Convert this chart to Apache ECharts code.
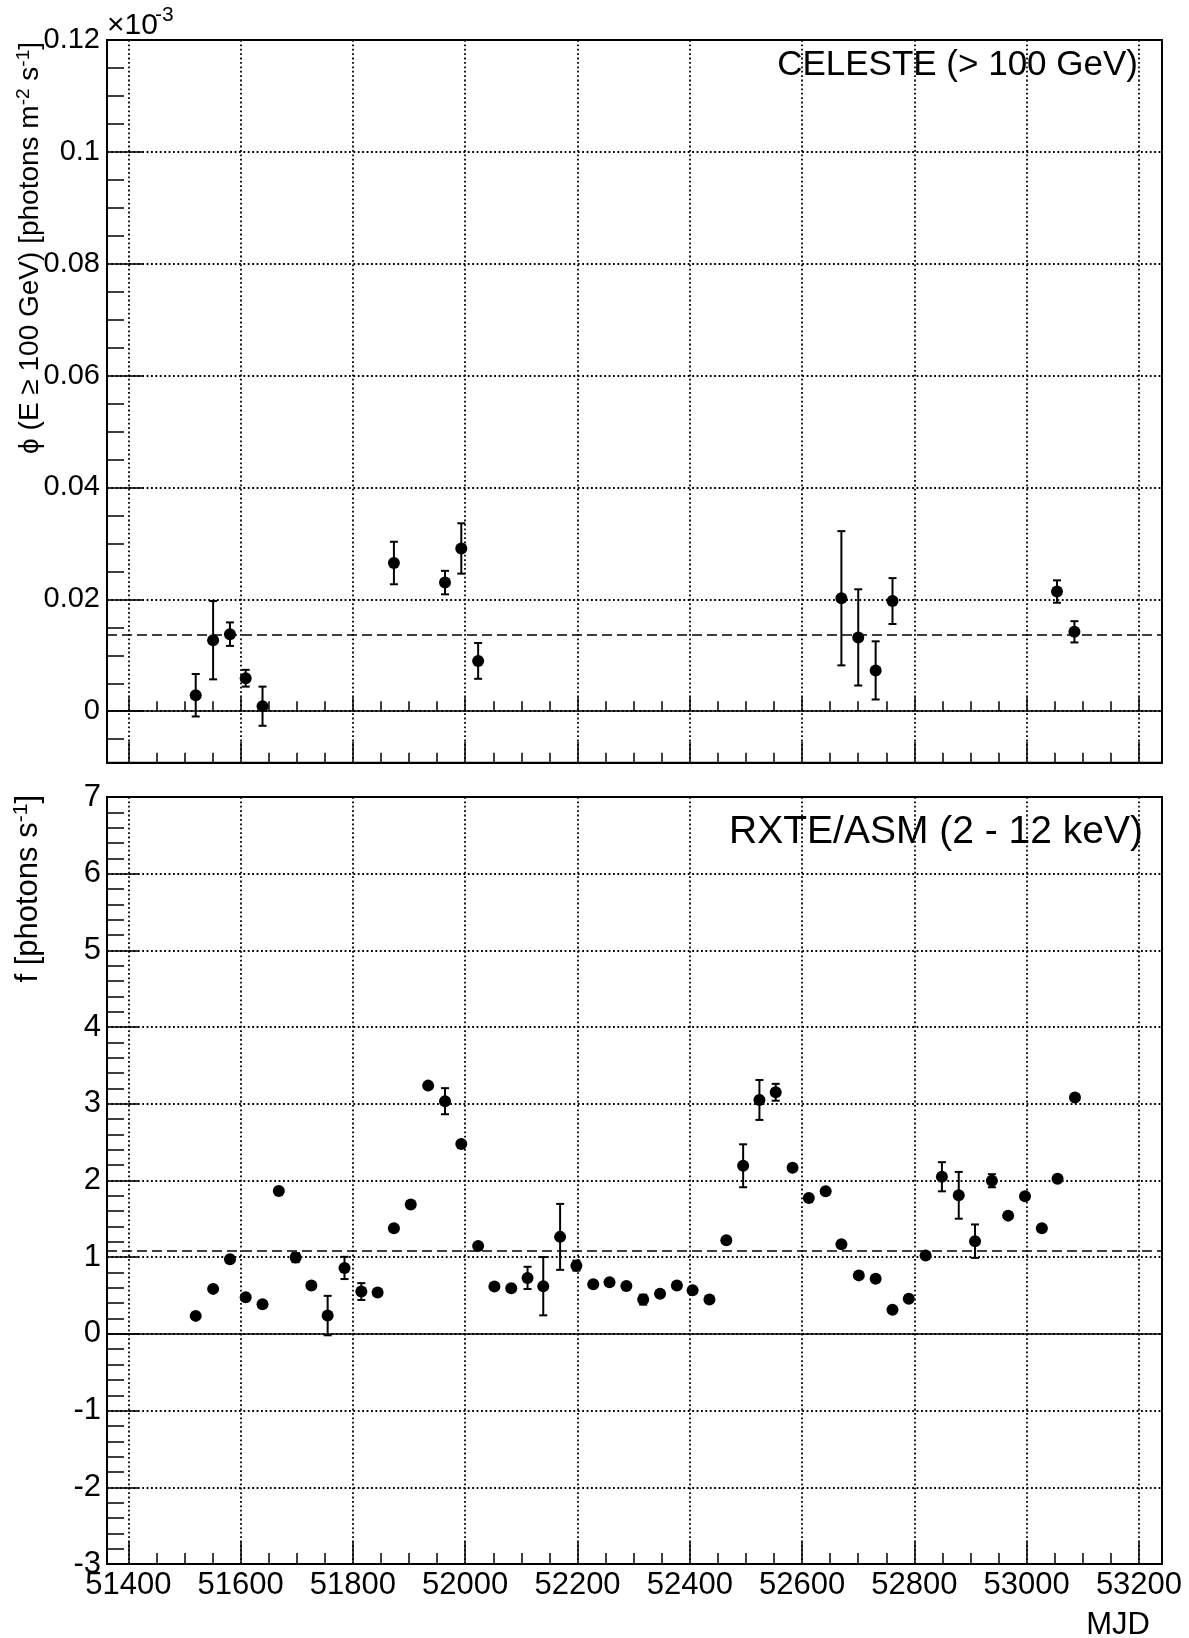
<!DOCTYPE html>
<html>
<head>
<meta charset="utf-8">
<script src="https://cdn.jsdelivr.net/npm/echarts@6/dist/echarts.min.js"></script>
<style>
  html, body { margin: 0; padding: 0; background: #fff; }
  #lightCurveChart { width: 1189px; height: 1638px; }
</style>
</head>
<body>
<div id="lightCurveChart"></div>
<script>
// CELESTE (> 100 GeV) monthly fluxes, in units of 1e-3 photons m^-2 s^-1
var celesteMjd = [51520, 51551, 51581, 51609, 51639, 51873, 51964, 51993, 52023, 52670, 52700, 52731, 52761, 53054, 53085];
var celesteFlux = [0.00286, 0.0127, 0.01378, 0.0059, 0.0009, 0.0265, 0.0230, 0.0291, 0.0090, 0.0202, 0.0132, 0.0073, 0.0197, 0.0214, 0.0142];
var celesteErr = [0.0038, 0.0070, 0.0021, 0.0015, 0.0035, 0.0038, 0.0021, 0.0045, 0.0032, 0.0120, 0.0086, 0.0052, 0.0041, 0.0020, 0.0019];
var celesteMean = 0.0136;

// RXTE/ASM (2 - 12 keV) count rates, photons s^-1
var asmMjd = [51520, 51551, 51581, 51609, 51639, 51668, 51698, 51726, 51755, 51785,
              51815, 51844, 51873, 51903, 51934, 51964, 51993, 52023, 52052, 52082,
              52111, 52139, 52169, 52198, 52228, 52257, 52287, 52317, 52347, 52377,
              52405, 52435, 52465, 52495, 52524, 52553, 52583, 52612, 52642, 52670,
              52701, 52731, 52761, 52790, 52820, 52849, 52879, 52908, 52938, 52967,
              52997, 53027, 53055, 53086];
var asmRate = [0.235, 0.587, 0.974, 0.478, 0.387, 1.864, 0.995, 0.63, 0.239, 0.86,
               0.552, 0.539, 1.378, 1.686, 3.237, 3.034, 2.477, 1.147, 0.617, 0.595,
               0.73, 0.622, 1.265, 0.89, 0.648, 0.674, 0.626, 0.447, 0.525, 0.63,
               0.57, 0.448, 1.222, 2.192, 3.05, 3.15, 2.166, 1.772, 1.859, 1.17,
               0.763, 0.719, 0.316, 0.459, 1.023, 2.049, 1.807, 1.209, 1.997, 1.542,
               1.794, 1.378, 2.023, 3.081];
var asmErr = [0.03, 0.03, 0.03, 0.03, 0.03, 0.03, 0.06, 0.03, 0.257, 0.145,
              0.11, 0.03, 0.03, 0.03, 0.03, 0.17, 0.03, 0.03, 0.03, 0.03,
              0.145, 0.38, 0.43, 0.065, 0.03, 0.03, 0.03, 0.065, 0.03, 0.03,
              0.03, 0.03, 0.03, 0.28, 0.26, 0.11, 0.03, 0.03, 0.03, 0.03,
              0.03, 0.03, 0.03, 0.03, 0.03, 0.19, 0.305, 0.218, 0.085, 0.03,
              0.03, 0.03, 0.03, 0.03];
var asmMean = 1.082;

// axis ranges
var mjdRange = [51362, 53241];
var fluxRange = [-0.0092, 0.12];
var rateRange = [-3, 7];

var FONT = '"Liberation Sans", Arial, Helvetica, sans-serif';
var gridDots = { color: '#000', width: 1.8, type: [1.8, 2.6] };

function zip3(a, b, c) {
  return a.map(function (v, i) { return [v, b[i], c[i]]; });
}

function renderErrorBar(params, api) {
  var x = api.value(0), y = api.value(1), err = api.value(2);
  var hi = api.coord([x, y + err]);
  var lo = api.coord([x, y - err]);
  var cap = 4;
  var style = { stroke: '#000', lineWidth: 2 };
  return {
    type: 'group',
    children: [
      { type: 'line', shape: { x1: hi[0], y1: hi[1], x2: lo[0], y2: lo[1] }, style: style },
      { type: 'line', shape: { x1: hi[0] - cap, y1: hi[1], x2: hi[0] + cap, y2: hi[1] }, style: style },
      { type: 'line', shape: { x1: lo[0] - cap, y1: lo[1], x2: lo[0] + cap, y2: lo[1] }, style: style }
    ]
  };
}

function refLines(mean) {
  return {
    silent: true,
    precision: 6,
    symbol: ['none', 'none'],
    label: { show: false },
    data: [
      { yAxis: 0, lineStyle: { color: '#000', width: 1.6, type: 'solid' } },
      { yAxis: mean, lineStyle: { color: '#000', width: 1.6, type: [10, 5] } }
    ]
  };
}

function mjdAxis(grid, opts) {
  var base = {
    gridIndex: grid,
    type: 'value',
    min: mjdRange[0],
    max: mjdRange[1],
    splitNumber: 9,
    axisLine: { show: true, onZero: false, lineStyle: { color: '#000', width: 2 } },
    axisTick: { show: true, inside: true, length: 21, lineStyle: { color: '#000', width: 1.5 } },
    minorTick: { show: true, splitNumber: 4, length: 10, lineStyle: { color: '#000', width: 1.5 } },
    axisLabel: { show: false },
    splitLine: { show: true, lineStyle: gridDots }
  };
  return Object.assign(base, opts || {});
}

var chartDom = document.getElementById('lightCurveChart');
var myChart = echarts.init(chartDom);

var option = {
  animation: false,
  backgroundColor: '#fff',
  textStyle: { fontFamily: FONT, color: '#000' },
  grid: [
    { left: 107, right: 27, top: 40, height: 722.7, show: true, borderColor: '#000', borderWidth: 2, containLabel: false },
    { left: 107, right: 27, top: 797, height: 767, show: true, borderColor: '#000', borderWidth: 2, containLabel: false }
  ],
  xAxis: [
    mjdAxis(0),
    // ticks of the top panel also poke below its frame
    mjdAxis(0, {
      axisLine: { show: false },
      axisTick: { show: true, inside: false, length: 14, lineStyle: { color: '#000', width: 1.5 } },
      minorTick: { show: true, splitNumber: 4, length: 10, lineStyle: { color: '#000', width: 1.5 } },
      splitLine: { show: false }
    }),
    mjdAxis(1, {
      axisTick: { show: true, inside: true, length: 22, lineStyle: { color: '#000', width: 1.5 } },
      minorTick: { show: true, splitNumber: 4, length: 11, lineStyle: { color: '#000', width: 1.5 } },
      axisLabel: {
        show: true, color: '#000', fontSize: 31, fontFamily: FONT, margin: 6,
        formatter: function (v) { return v % 200 === 0 ? String(v) : ''; }
      }
    })
  ],
  yAxis: [
    {
      gridIndex: 0, type: 'value', min: fluxRange[0], max: fluxRange[1], splitNumber: 6,
      axisLine: { show: true, onZero: false, lineStyle: { color: '#000', width: 2 } },
      axisTick: { show: true, inside: true, length: 36, lineStyle: { color: '#000', width: 1.5 } },
      minorTick: { show: true, splitNumber: 4, length: 17, lineStyle: { color: '#000', width: 1.5 } },
      axisLabel: {
        color: '#000', fontSize: 29, fontFamily: FONT, margin: 7,
        formatter: function (v) {
          var k = v / 0.02;
          return Math.abs(k - Math.round(k)) > 1e-6 ? '' : String(+v.toFixed(2));
        }
      },
      splitLine: { show: true, lineStyle: gridDots }
    },
    {
      gridIndex: 1, type: 'value', min: rateRange[0], max: rateRange[1], interval: 1,
      axisLine: { show: true, onZero: false, lineStyle: { color: '#000', width: 2 } },
      axisTick: { show: true, inside: true, length: 31, lineStyle: { color: '#000', width: 1.5 } },
      minorTick: { show: true, splitNumber: 5, length: 17, lineStyle: { color: '#000', width: 1.5 } },
      axisLabel: { color: '#000', fontSize: 31, fontFamily: FONT, margin: 6 },
      splitLine: { show: true, lineStyle: gridDots }
    }
  ],
  series: [
    {
      name: 'CELESTE error',
      type: 'custom',
      xAxisIndex: 0, yAxisIndex: 0,
      renderItem: renderErrorBar,
      encode: { x: 0, y: 1 },
      data: zip3(celesteMjd, celesteFlux, celesteErr),
      z: 3
    },
    {
      name: 'CELESTE',
      type: 'scatter',
      xAxisIndex: 0, yAxisIndex: 0,
      symbol: 'circle', symbolSize: 12,
      itemStyle: { color: '#000', opacity: 1 },
      data: celesteMjd.map(function (m, i) { return [m, celesteFlux[i]]; }),
      markLine: refLines(celesteMean),
      z: 4
    },
    {
      name: 'ASM error',
      type: 'custom',
      xAxisIndex: 2, yAxisIndex: 1,
      renderItem: renderErrorBar,
      encode: { x: 0, y: 1 },
      data: zip3(asmMjd, asmRate, asmErr),
      z: 3
    },
    {
      name: 'RXTE/ASM',
      type: 'scatter',
      xAxisIndex: 2, yAxisIndex: 1,
      symbol: 'circle', symbolSize: 12,
      itemStyle: { color: '#000', opacity: 1 },
      data: asmMjd.map(function (m, i) { return [m, asmRate[i]]; }),
      markLine: refLines(asmMean),
      z: 4
    }
  ],
  graphic: [
    { type: 'text', x: 107, y: 26, style: { text: '×10', fontSize: 30, fontFamily: FONT, fill: '#000', align: 'left', verticalAlign: 'middle' } },
    { type: 'text', x: 155, y: 15, style: { text: '-3', fontSize: 21, fontFamily: FONT, fill: '#000', align: 'left', verticalAlign: 'middle' } },
    { type: 'text', x: 1138, y: 65, style: { text: 'CELESTE (> 100 GeV)', fontSize: 35, fontFamily: FONT, fill: '#000', align: 'right', verticalAlign: 'middle' } },
    { type: 'text', x: 1143, y: 832, style: { text: 'RXTE/ASM (2 - 12 keV)', fontSize: 39, fontFamily: FONT, fill: '#000', align: 'right', verticalAlign: 'middle' } },
    { type: 'text', x: 1150, y: 1625, style: { text: 'MJD', fontSize: 31, fontFamily: FONT, fill: '#000', align: 'right', verticalAlign: 'middle' } },
    {
      type: 'text', x: 30, y: 42, rotation: Math.PI / 2,
      style: {
        text: '{n|ϕ (E ≥ 100 GeV) [photons m}{s|-2}{n| s}{s|-1}{n|]}',
        align: 'right', verticalAlign: 'middle', fill: '#000',
        rich: {
          n: { fontSize: 28, fontFamily: FONT, fill: '#000', lineHeight: 32 },
          s: { fontSize: 19, fontFamily: FONT, fill: '#000', lineHeight: 20, verticalAlign: 'top' }
        }
      }
    },
    {
      type: 'text', x: 28, y: 795, rotation: Math.PI / 2,
      style: {
        text: '{n|f [photons s}{s|-1}{n|]}',
        align: 'right', verticalAlign: 'middle', fill: '#000',
        rich: {
          n: { fontSize: 31, fontFamily: FONT, fill: '#000', lineHeight: 35 },
          s: { fontSize: 21, fontFamily: FONT, fill: '#000', lineHeight: 22, verticalAlign: 'top' }
        }
      }
    }
  ]
};

myChart.setOption(option);
</script>
</body>
</html>
